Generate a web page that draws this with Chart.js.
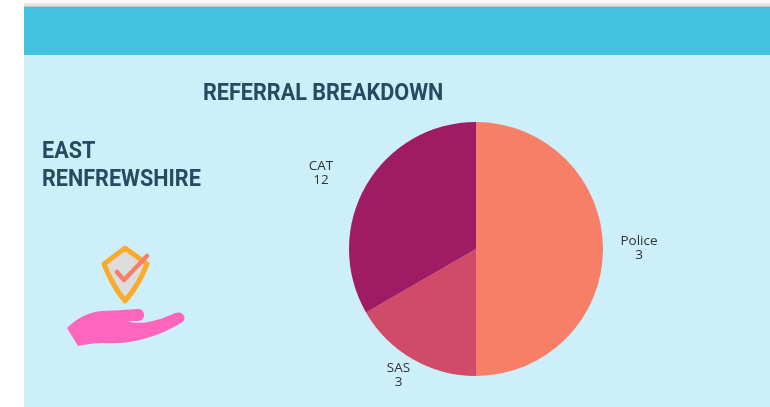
<!DOCTYPE html>
<html><head><meta charset="utf-8">
<script src="https://cdn.jsdelivr.net/npm/chart.js@4"></script>
<style>
html,body{margin:0;padding:0;background:#fff;width:770px;height:407px;overflow:hidden}
#panel{position:absolute;left:24px;top:7px;width:746px;height:400px;background:#cdeff9}
#rule{position:absolute;left:24px;top:3px;width:746px;height:4px;background:linear-gradient(#e6e6e6 0,#e2e2e2 75%,#c6c6c6 75%)}
#band{position:absolute;left:24px;top:7px;width:746px;height:48px;background:#42c2de}
canvas{position:absolute;left:0;top:0}
.h{position:absolute;font:700 24px/1 Roboto,sans-serif;color:#264a60;white-space:nowrap;transform-origin:0 0;transform:scaleX(.9)}
#icon{position:absolute;left:0;top:0}
</style></head><body>
<div id="rule"></div><div id="panel"></div><div id="band"></div>
<canvas id="c" width="770" height="407"></canvas>
<div class="h" style="left:203px;top:80px">REFERRAL BREAKDOWN</div>
<div class="h" style="left:42px;top:138px">EAST</div>
<div class="h" style="left:42px;top:166px">RENFREWSHIRE</div>
<svg id="icon" width="770" height="407" viewBox="0 0 770 407">
<path d="M125 248L104 264Q112 285 125 301Q139 285 147 264Z" fill="#dcdcdc" stroke="#fbab2b" stroke-width="5" stroke-linejoin="round"/>
<path d="M117 272L124 280L147 256" fill="none" stroke="#f77f67" stroke-width="4.5" stroke-linecap="round" stroke-linejoin="round"/>
<path d="M67 328C78 317 90 312 102 311C118 310 128 310 138 309C146 309 146 321 138 321L127 321C142 326 160 320 175 313C184 310 188 320 181 323C158 337 130 345 103 343C95 343 88 344 78 346Z" fill="#fe66bd"/>
</svg>
<script>
const categories = ['Police', 'SAS', 'CAT'];
const shownValues = ['3', '3', '12'];      // numbers printed beside the slices
const sliceShares = [50, 16.67, 33.33];    // slice sizes as drawn in the picture (%)
const sliceColors = ['#f77f67', '#cf4b68', '#9f1c65'];
const labelOffsets = [[36, -1], [-14, 16], [-45, -12]];

const sideLabels = {
  id: 'sideLabels',
  afterDatasetsDraw(chart) {
    const ctx = chart.ctx;
    ctx.save();
    ctx.font = '13.5px "Open Sans", sans-serif';
    ctx.fillStyle = '#333';
    ctx.textAlign = 'center';
    ctx.textBaseline = 'middle';
    chart.getDatasetMeta(0).data.forEach((arc, i) => {
      const mid = (arc.startAngle + arc.endAngle) / 2;
      const x = arc.x + Math.cos(mid) * arc.outerRadius + labelOffsets[i][0];
      const y = arc.y + Math.sin(mid) * arc.outerRadius + labelOffsets[i][1];
      ctx.fillText(categories[i], x, y - 7);
      ctx.fillText(shownValues[i], x, y + 7);
    });
    ctx.restore();
  }
};

new Chart(document.getElementById('c'), {
  type: 'pie',
  data: { labels: categories, datasets: [{ data: sliceShares, backgroundColor: sliceColors, borderWidth: 0 }] },
  options: {
    responsive: false, animation: false,
    layout: { padding: { left: 349, right: 167, top: 122, bottom: 31 } },
    plugins: { legend: { display: false }, tooltip: { enabled: false } }
  },
  plugins: [sideLabels]
});
</script>
</body></html>
